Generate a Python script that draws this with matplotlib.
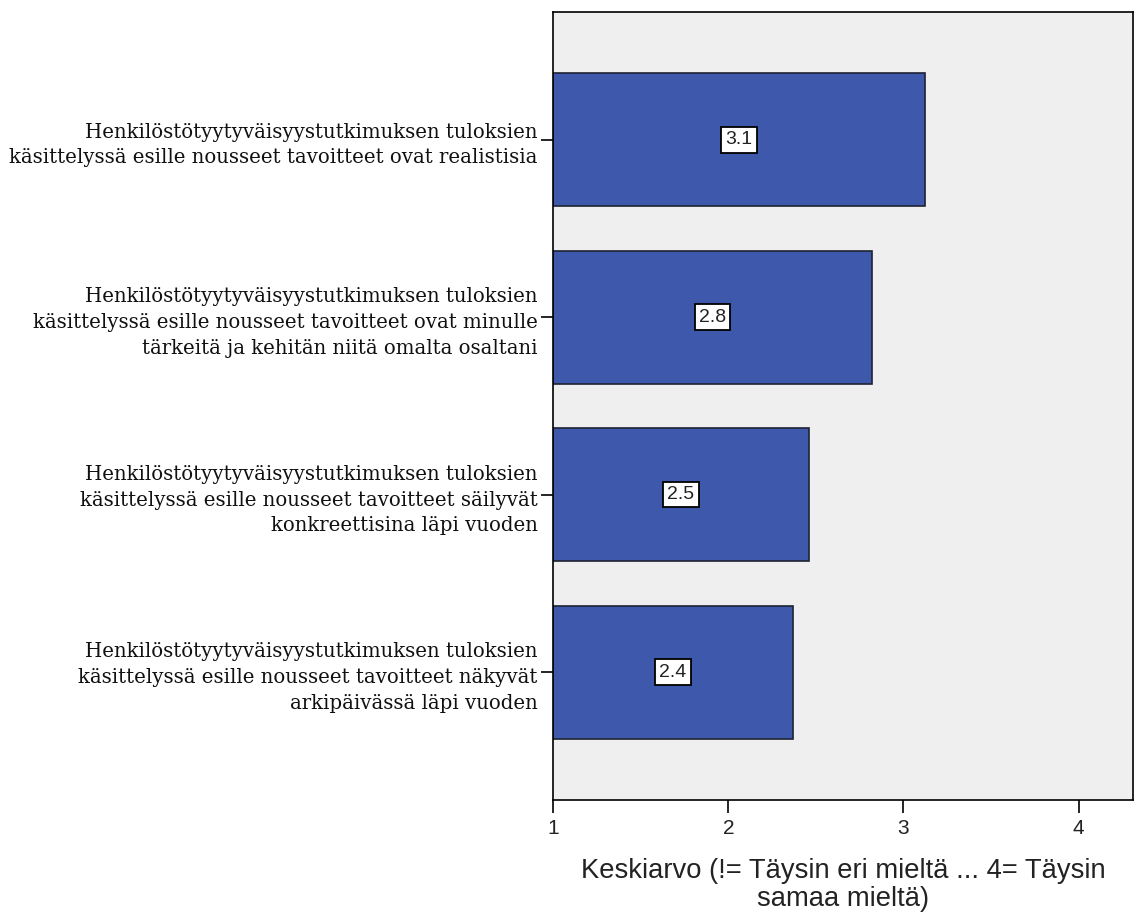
import matplotlib.pyplot as plt
import numpy as np

questions = [
    "Henkilöstötyytyväisyystutkimuksen tuloksien\nkäsittelyssä esille nousseet tavoitteet ovat realistisia",
    "Henkilöstötyytyväisyystutkimuksen tuloksien\nkäsittelyssä esille nousseet tavoitteet ovat minulle\ntärkeitä ja kehitän niitä omalta osaltani",
    "Henkilöstötyytyväisyystutkimuksen tuloksien\nkäsittelyssä esille nousseet tavoitteet säilyvät\nkonkreettisina läpi vuoden",
    "Henkilöstötyytyväisyystutkimuksen tuloksien\nkäsittelyssä esille nousseet tavoitteet näkyvät\narkipäivässä läpi vuoden",
]
means = [3.12, 2.82, 2.46, 2.37]
xticks = [1, 2, 3, 4]
xlabel = "Keskiarvo (!= Täysin eri mieltä ... 4= Täysin\nsamaa mieltä)"

fig = plt.figure(figsize=(11.37, 9.13), dpi=100)
ax = fig.add_axes([0.4864, 0.1238, 0.5101, 0.8631])
ax.set_facecolor('#efefef')

base = 1
y = np.arange(len(questions))
widths = [m - base for m in means]
ax.barh(y, widths, left=base, height=0.75, color='#3e58ab',
        edgecolor='#1e2233', linewidth=1.2, zorder=2)

# value boxes in the middle of each bar
for yi, m in zip(y, means):
    ax.text((base + m) / 2, yi, f'{m:.1f}', ha='center', va='center',
            fontsize=14, family='Liberation Sans', color='#222222', zorder=3,
            bbox=dict(boxstyle='square,pad=0.22', fc='white', ec='black', lw=1.3))

ax.set_xlim(1, 4.31)
ax.set_ylim(3.72, -0.72)
ax.set_xticks(xticks)
ax.set_xticklabels([str(t) for t in xticks], family='Liberation Sans',
                   fontsize=15, color='#222222')
ax.set_yticks(y)
ax.set_yticklabels(questions, family='DejaVu Serif', fontsize=14.2,
                   linespacing=1.45, ha='right', color='#111111')
ax.tick_params(axis='x', direction='out', length=9, width=1.2, pad=5)
ax.tick_params(axis='y', direction='out', length=9, width=1.2, pad=2)
ax.set_xlabel(xlabel, family='Liberation Sans', fontsize=19.7, labelpad=14,
              linespacing=1.1, color='#222222')

for s in ax.spines.values():
    s.set_linewidth(1.2)

fig.savefig('out.png', dpi=100)
